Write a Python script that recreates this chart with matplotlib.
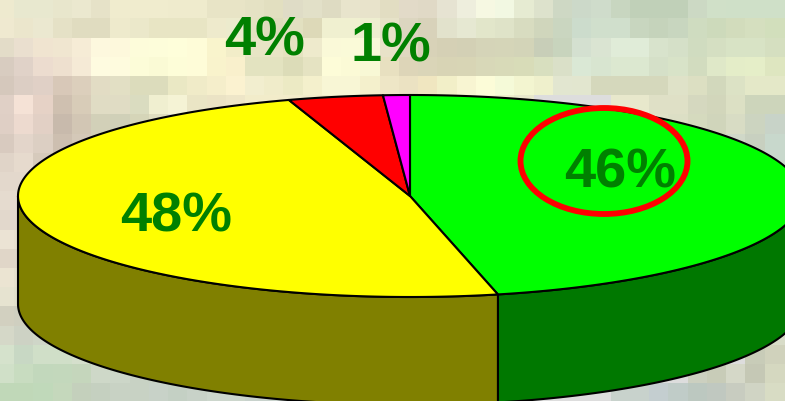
import numpy as np
import matplotlib
matplotlib.use('Agg')
import matplotlib.pyplot as plt
from matplotlib.colors import to_rgb
from matplotlib.patches import Ellipse

# slices, clockwise from 12 o'clock
values = [46.4, 48.6, 3.9, 1.1]
top_colors = ['#00ff00', '#ffff00', '#ff0000', '#ff00ff']
side_colors = ['#007800', '#808000', '#800000', '#800080']
labels = ['46%', '48%', '4%', '1%']
label_x = [620, 176, 265, 391]
label_y = [174, 217, 41, 47]

# background mosaic, estimated by eye, one string per row (left part, right part)
bg_left = [
    'eeeacf e8e8cf e8e8cf e8e6cc ebe8cf e6e2c8 f0ecce f0ecce f0ecce efebcd efebcd e8e4c6 e8e4c6 e5e2c4 e2dfc0 dfdcc6 e2e0c8 dedbc2 e8e4cc e8e3cb e2ddc2 e2dac8 e0d9c6 e6e3d2 eeeedd f6f8e2 f2f8e2 e6ebd2 dde2cc ced8c4 ccd9c9 cfdccb c8d6c0 c0d0b8 c0d0b8 c0d0b8 ccd9c4 d0e0c8 cfe0c8 cfe0c8 cfe0c8',
    'efe9d0 ebe6cc ebe8d0 e5e1c6 e0dcc0 e0dcc0 eeeacc ebe8ca e8e5c4 e8e5c4 e8e5c4 eeeacc ecebcd e5e2c2 dedcbc e2e0c0 ddd9b8 f0f0d0 f0f0d0 eeeed0 e6e2c8 dcd6c0 d8d2ba e2e2cc e6e8d2 e2e6ca dfe3c8 d8dcc0 d0d6bc cad6c0 ccdccc d0dfcc d0dfcc c8d6bf c5d3bb c8d6bf cfdcc0 cddabb d2dcbc d5dfbf d2dfbc',
    'e3dcc8 eadfcf f0e4d0 f0e6d0 f6ecd6 fdf8de fdf8dc fdfcda fdfdda fefeda fefcd8 f9f4cc f2edc8 e8e5c5 e8e5c5 e5e2c0 eeeacc faf9d8 fafad8 f8f8d8 e8e2c8 e0d8c0 d8d2b8 d5d0b5 d3d0b5 d5d4b8 d5d5b8 d3d4b8 c8ceb8 c8d4bd d4e0d0 dae4d2 e0ecd8 e0ecd8 d8e3cc d5e0c8 d0dcc0 d5dfc2 d8e3c5 d8e3c5 d5dfc0',
    'd8ccc0 e0d2c8 ecdccf eee0cf f5ead6 fefbe0 fefbde fcfcd8 fafad5 fdfdd8 fefcd8 f9f3cc f9f0cc e3e3c0 e3e3c0 dcdcb8 e5e3c2 fdfcd8 fbfad6 f8f8d5 e8e0c0 ddd5b8 dad5b8 d8d4b5 d8d5b5 d8d8b8 d8dab8 d8dcb8 d8dfbf dae0c8 dae8d5 d8e5d0 dce8d0 dce8d0 d5e0c8 d8e3c8 d2dcbf dfe8c8 e4edc8 e5eec8 dee6c0',
    'd5c8bc dccec4 e0d0c6 d8c8b8 dccfbc e2dcc4 e2dfc4 dcdcbc dcdcbc eae8c4 f0ebc8 f5eecb fbf2d0 f2eecf f0ecca eceac4 f4f0cc f8f6d5 f8f6d5 f4f0cc eee6c6 ebe2c2 f0e6c0 f2efc8 f8f5d2 fcfcd8 f5fad8 f3f5d0 eff0cc e2e6d0 e2e6cf d5d8bc d5d8bc d5d8bc d5d8bc dfe2c8 dcdfc2 d2d8bc dce2c5 e4e8c8 e4e8c8',
    'e0d0c6 f5e2d6 e6d2c6 cfc0b0 d8ccb8 e0dcc4 e0dcc4 dadcc0 f0efd0 f5f3d5 eae5c5 ebe3c5 eee6c8 f2ecca f2ecca f2ecca f2ecca f2ecca f2ecca f2ecca f2ecca f0eaca f0eaca f2f0cc f4f2d0 f4f2d0 eeeecc e8e8cc',
    'dfcfc5 eddacf e2d0c5 c8baac d2c6b4 d2d0b8 d0d0b8 d5d5b8 e0dec0',
    'd8cabf e3d5ca dccfc3 cdbfb0 d4c8b8 d2ceb8',
    'e0d4c8 e6dacd d6cabc d2c4b6',
    'e3d8cc e3d8cc',
    'e5dbcf e5dbcf',
    'e2d8cc e2d8cc',
    'ebe3d4 e8e0d0',
    'e0d6c8 dfd6c8',
    'ebe4d2 e6e0ce',
    'e6e3d0 e2e0cc',
    'd2d0c0 cfcfc0',
    'd5d8c8 cdd2c4 cfd6c8',
    'd5e2cc c8d8c4 d0dfc8 d0dfc8 d5dfcc d8e0d0 d2dccc',
    'd0e0c8 c8dcc0 c2d8bc c3d8bc c5d6bc ced8c8 ccd6c8 c8d2c4 c8d2c4 ccd6cc d0d8d0 ccd6cc',
    'c0d8b8 c0d8b8 c0d9ba c5d8bc c4d0bc c5d0c0 c8d2c4 c8d2c4 c8d2c8 c4d0c4 c8d2c8 ccd6cc ccd6cc c8d2cc c8d2cc c8d2cc c8d2cc c8d2cc c8d2cc',
]
bg_right = [
    '', '', '', '', '',
    'e8e8cc e8e8cc dfe0c6 dfe0c6 d5d8bf d2d6bb dce0c4 cdd5bb cdd5bb',
    'e0e2c8 dcdfc5 d5dabe d0d5bb d8dcc4 ccd4c0 c8d3c8',
    'd4dac8 d0d8c8 c8d0c0 c8d8cc',
    'ccd4c8 c8d8cc',
    '', '', '', '', '', '', '', '',
    'd8dcc8',
    'c8ccb8 d0d2bc',
    'ccd0c0 c8ccb8 d5d8c8 c5c8b5 d5d8c0',
    'c8d2cc c8d2cc c4ced0 c0ccc8 bcc8c0 c0c8c0 c8ccc0 d0d4c4 d8dcc4',
]

# pie geometry in picture pixels
cx, cy = 410, 196
rx, ry = 392, 101
depth = 108


def rim(theta):
    # theta in degrees, clockwise from the top of the ellipse
    t = np.radians(theta)
    return cx + rx * np.sin(t), cy - ry * np.cos(t)


fig = plt.figure(figsize=(7.85, 4.01), dpi=100)
ax = fig.add_axes([0, 0, 1, 1])
ax.axis('off')

# background
n_rows, n_cols = len(bg_left), 42
grid = np.full((n_rows, n_cols, 3), to_rgb('#dddddd'))
for r in range(n_rows):
    left = bg_left[r].split()
    right = bg_right[r].split()
    for c, code in enumerate(left):
        grid[r, c] = to_rgb('#' + code)
    for c, code in enumerate(right):
        grid[r, 41 - len(right) + c] = to_rgb('#' + code)
    grid[r, 41] = grid[r, 40]
ax.imshow(grid, extent=(-5.25, -5.25 + 19.25 * n_cols, -0.7 + 19.2 * n_rows, -0.7),
          interpolation='nearest', aspect='auto', zorder=0)
ax.set_xlim(0, 785)
ax.set_ylim(401, 0)

# slice angles
edges = np.concatenate([[0], np.cumsum(values)]) / np.sum(values) * 360

# side walls: only the front half (90..270 degrees) shows
for i in range(len(values)):
    a, b = max(edges[i], 90), min(edges[i + 1], 270)
    if a >= b:
        continue
    th = np.linspace(a, b, 200)
    x, y = rim(th)
    ax.fill(np.r_[x, x[::-1]], np.r_[y, y[::-1] + depth], facecolor=side_colors[i],
            edgecolor='black', linewidth=1.5, joinstyle='round', zorder=2)

# top faces
for i in range(len(values)):
    th = np.linspace(edges[i], edges[i + 1], 300)
    x, y = rim(th)
    ax.fill(np.r_[cx, x], np.r_[cy, y], facecolor=top_colors[i],
            edgecolor='black', linewidth=1.5, joinstyle='round', zorder=3)

for i in range(len(labels)):
    ax.text(label_x[i], label_y[i], labels[i], color='#008000', fontsize=40.3,
            fontweight='bold', family='Liberation Sans', ha='center', va='center', zorder=4)

# highlight ring around the green slice
ax.add_patch(Ellipse((604, 161), 167, 106, facecolor='none', edgecolor='#ff0000',
                     linewidth=4.2, zorder=5))

fig.savefig('out.png', dpi=100)
